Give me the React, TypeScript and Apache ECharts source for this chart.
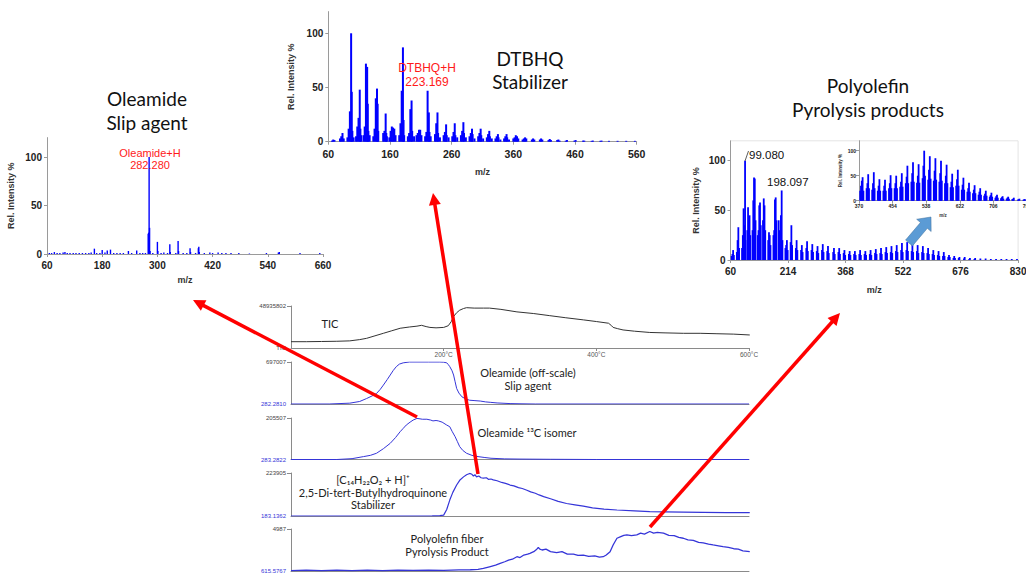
import React, { useEffect, useRef } from "react";
import * as echarts from "echarts";

// ---------------- DATA ----------------
// Mass spectrum 1: Oleamide (m/z, rel. intensity %)
const oleamideSpecMz = [65, 70, 76, 82, 88, 95, 99, 104, 110, 117, 123, 130, 137, 144, 151, 156, 163, 168, 175, 180, 186, 191, 198, 205, 212, 219, 226, 237, 244, 255, 262, 268, 274, 280, 281, 282, 283, 284, 290, 300, 301, 308, 314, 322, 327, 328, 340, 345, 346, 356, 364, 371, 372, 383, 389, 390, 391, 402, 414, 420, 432, 440, 449, 460, 477, 500, 537, 563, 565, 610, 653];
const oleamideSpecInt = [1, 1, 2, 1, 1, 1.5, 2, 1, 1, 1, 1, 1, 1, 1, 1, 1.5, 5.5, 1, 1, 4, 1.5, 3.5, 4.5, 1, 1, 1, 1, 3, 1, 3.5, 1, 1, 1, 21, 22, 100, 27, 3, 1, 12.5, 3, 1, 1.5, 1, 10, 2, 1, 13.5, 3, 1, 1, 6, 2, 1, 6, 7.5, 2, 1, 1.5, 1, 1.5, 1, 1, 1, 1, 0.5, 1, 1.5, 2, 1, 1];

// Mass spectrum 2: DTBHQ
const dtbhqSpecMz = [66, 68, 70, 79, 81, 83, 85, 91, 93, 95, 97, 98, 99, 101, 105, 107, 109, 111, 112, 113, 117, 119, 121, 123, 124, 125, 127, 133, 135, 137, 139, 140, 141, 149, 151, 153, 154, 155, 159, 161, 163, 165, 167, 169, 175, 177, 179, 181, 182, 183, 189, 191, 193, 195, 196, 199, 203, 205, 207, 209, 211, 217, 219, 221, 223, 224, 226, 233, 235, 237, 238, 241, 247, 249, 251, 252, 255, 261, 263, 265, 266, 269, 275, 277, 279, 280, 283, 289, 291, 293, 294, 297, 303, 305, 307, 308, 311, 317, 319, 321, 322, 325, 331, 333, 335, 336, 339, 345, 347, 349, 350, 353, 360, 362, 364, 366, 368, 375, 377, 379, 381, 390, 392, 394, 403, 405, 407, 417, 419, 421, 431, 433, 435, 445, 447, 459, 461, 473, 475, 487, 489, 501, 503, 515, 529, 543, 557];
const dtbhqSpecInt = [1, 2, 1.5, 3, 5, 8, 3, 4, 12, 28, 100, 46, 10, 4, 5, 14, 22, 48, 12, 6, 6, 14, 72, 69, 35, 10, 6, 5, 12, 40, 49, 35, 10, 8, 10, 26, 8, 5, 4, 10, 14, 13, 12, 6, 6, 17, 47, 87, 20, 6, 5, 8, 30, 38, 10, 5, 6, 8, 11, 11, 6, 5, 9, 47, 27, 9, 5, 7, 17, 27, 8, 4, 6, 9, 16, 6, 4, 5, 9, 17, 6, 4, 6, 10, 18, 8, 4, 5, 8, 12, 7, 3, 5, 8, 12, 6, 3, 4, 7, 10, 5, 3, 3, 5, 7, 4, 2, 3, 5, 7, 4, 2, 3, 4, 6, 5, 3, 2, 3, 4, 3, 2, 3, 2, 2, 3, 2, 1.5, 2.5, 1.5, 1.5, 2, 1, 1, 1.5, 1, 1.5, 1, 1, 0.8, 1, 0.8, 1, 0.8, 0.8, 0.8, 0.8];

// Mass spectrum 3: Polyolefin pyrolysis products
const polySpecMz = [63, 65, 67, 69, 77, 79, 81, 83, 91, 93, 95, 97, 99, 100, 105, 107, 109, 111, 113, 119, 121, 123, 125, 127, 133, 135, 137, 139, 141, 147, 149, 151, 153, 161, 163, 165, 167, 175, 177, 179, 181, 183, 189, 191, 195, 197, 199, 207, 209, 211, 213, 221, 223, 225, 235, 237, 239, 249, 251, 253, 263, 265, 267, 277, 279, 281, 291, 293, 295, 305, 307, 309, 319, 321, 323, 335, 337, 339, 349, 351, 353, 363, 365, 367, 377, 379, 381, 391, 393, 395, 405, 407, 409, 419, 421, 423, 433, 435, 437, 447, 449, 451, 461, 463, 465, 475, 477, 479, 489, 491, 493, 503, 505, 507, 517, 519, 521, 531, 533, 535, 545, 547, 549, 559, 561, 563, 573, 575, 577, 587, 589, 591, 601, 603, 605, 615, 617, 619, 629, 631, 633, 643, 645, 647, 657, 659, 661, 671, 673, 685, 687, 699, 701, 713, 715, 729, 743, 757, 771, 785, 799, 813, 827];
const polySpecInt = [4, 6, 10, 5, 8, 20, 33, 12, 12, 25, 52, 35, 100, 20, 30, 53, 40, 45, 25, 30, 60, 83, 82, 40, 25, 30, 55, 58, 35, 40, 62, 55, 30, 20, 28, 25, 15, 25, 30, 61, 63, 40, 40, 30, 45, 70, 20, 12, 15, 20, 10, 18, 35, 15, 12, 20, 10, 10, 15, 8, 12, 19, 9, 10, 16, 8, 9, 14, 7, 10, 16, 8, 9, 14, 7, 8, 12, 6, 8, 12, 6, 7, 10, 5, 6, 9, 5, 6, 9, 5, 6, 10, 5, 6, 9, 5, 6, 10, 5, 7, 11, 6, 7, 12, 6, 8, 13, 7, 8, 14, 7, 9, 15, 8, 10, 17, 8, 10, 18, 9, 9, 16, 8, 9, 15, 7, 8, 14, 7, 7, 12, 6, 6, 10, 5, 5, 9, 4, 4, 8, 4, 3, 5, 3, 2, 4, 2, 2, 3, 1.5, 3, 1, 2, 1, 2, 1.5, 1.5, 1, 1, 1, 1, 1, 1];

// Inset: zoom of polyolefin spectrum m/z 370-790
const insetMz = [373, 375, 377, 379, 381, 389, 391, 393, 395, 403, 405, 407, 409, 417, 419, 421, 423, 431, 433, 435, 437, 445, 447, 449, 451, 459, 461, 463, 465, 473, 475, 477, 479, 487, 489, 491, 493, 501, 503, 505, 507, 515, 517, 519, 521, 529, 531, 533, 535, 543, 545, 547, 549, 557, 559, 561, 563, 571, 573, 575, 577, 585, 587, 589, 591, 599, 601, 603, 605, 613, 615, 617, 619, 627, 629, 631, 633, 641, 643, 645, 647, 655, 657, 659, 661, 669, 671, 673, 675, 683, 685, 687, 689, 697, 699, 701, 703, 711, 713, 715, 717, 725, 727, 729, 731, 739, 741, 743, 745, 753, 755, 757, 767, 769, 771, 781, 783, 785];
const insetInt = [20, 30, 40, 47, 20, 25, 35, 53, 25, 22, 35, 57, 25, 20, 30, 43, 20, 20, 30, 42, 20, 25, 35, 51, 25, 25, 35, 50, 25, 28, 38, 55, 28, 35, 48, 70, 35, 38, 55, 77, 38, 36, 50, 73, 36, 45, 70, 100, 50, 42, 62, 89, 44, 40, 60, 85, 42, 38, 55, 80, 40, 35, 50, 72, 35, 27, 38, 54, 27, 30, 43, 62, 30, 22, 32, 46, 22, 18, 25, 36, 18, 15, 22, 31, 15, 12, 18, 25, 12, 10, 14, 20, 10, 8, 11, 16, 8, 6, 9, 12, 6, 5, 7, 9, 4, 4, 6, 8, 4, 3, 4, 6, 2, 3, 4, 2, 3, 3];

// Thermal profiles (temperature °C, % of panel full scale)
const ticTemp = [0, 20, 40, 60, 77, 90, 99, 110, 121, 132, 143, 155, 165, 171, 177, 182, 190, 200, 206, 210, 213, 217, 221, 226, 230, 240, 252, 260, 275, 296, 318, 339, 360, 383, 400, 416, 420, 422, 428, 435, 450, 470, 490, 514, 536, 558, 580, 601];
const ticVal = [15, 15, 15.5, 16, 17, 20, 23, 29, 35, 41, 47, 50, 52, 54, 51, 49, 48, 49, 53, 63, 75, 84, 90, 94, 96, 95, 95, 95, 92, 86, 82, 77, 72, 67, 63, 59, 53, 49, 46, 43, 40, 37, 36, 35, 35, 34, 33, 31];

const oleTemp = [0, 50, 77, 90, 99, 106, 112, 117, 121, 126, 130, 134, 138, 142, 147, 155, 180, 195, 200, 204, 206, 208, 211, 213, 215, 217, 220, 224, 229, 234, 241, 248, 255, 261, 270, 287, 300, 320, 600];
const oleVal = [0, 0, 2, 6, 13, 19, 25, 35, 45, 58, 69, 80, 89, 95, 98, 100, 100, 100, 99.5, 98, 94, 89, 79, 69, 53, 37, 26, 17, 12, 9, 8, 7, 5, 4, 2.5, 1, 0.5, 0, 0];

const isoTemp = [0, 60, 80, 95, 104, 112, 121, 130, 137, 143, 147, 151, 156, 160, 165, 169, 172, 178, 183, 186, 190, 193, 198, 204, 208, 211, 215, 218, 221, 225, 230, 237, 245, 253, 262, 280, 300, 340, 400, 600];
const isoVal = [0, 0, 2, 7, 10, 15, 26, 39, 53, 67, 75, 83, 90, 95, 99, 98, 97, 97, 95, 93, 94, 93, 90, 83, 79, 68, 55, 43, 31, 22, 15, 10, 7, 5, 3, 1.5, 1, 0.5, 0, 0];

const dtbTemp = [0, 150, 185, 195, 200, 204, 208, 212, 217, 221, 226, 230, 234, 237, 239, 241, 243, 246, 249, 252, 256, 259, 262, 265, 270, 276, 281, 287, 292, 298, 303, 309, 314, 320, 325, 331, 340, 350, 361, 372, 383, 395, 410, 427, 450, 470, 490, 514, 540, 570, 601];
const dtbVal = [0, 0, 0.5, 1, 2, 15, 37, 55, 72, 83, 91, 96, 99, 97, 93, 96, 91, 93, 89, 88, 89, 85, 86, 84, 82, 78, 76, 72, 70, 66, 64, 60, 56, 53, 49, 45, 40, 34, 29, 26, 23, 19, 16, 14, 12, 10, 9.5, 9, 8.5, 8, 8];

const polyTemp = [0, 20, 40, 60, 80, 100, 120, 140, 160, 180, 200, 220, 235, 245, 252, 260, 268, 274, 280, 285, 290, 296, 300, 305, 310, 313, 318, 322, 324, 326, 329, 334, 340, 348, 355, 362, 370, 376, 383, 390, 398, 404, 409, 413, 418, 422, 427, 432, 436, 440, 446, 453, 458, 463, 470, 475, 480, 488, 495, 502, 508, 514, 520, 527, 534, 540, 547, 553, 560, 566, 573, 580, 586, 592, 601];
const polyVal = [1, 2, 1, 2, 1, 2, 1, 2, 1.5, 2, 1.5, 2.5, 3, 4, 6, 10, 14, 18, 22, 26, 28, 34, 32, 38, 40, 42, 46, 52, 56, 52, 50, 52, 46, 44, 46, 40, 40, 37, 38, 35, 36, 33, 34, 38, 46, 62, 78, 82, 85, 86, 84, 86, 90, 88, 94, 90, 92, 90, 85, 84, 80, 78, 74, 73, 68, 67, 64, 62, 60, 58, 56, 53, 52, 48, 46];

// Axis tick values
const spec1Ticks = [60, 180, 300, 420, 540, 660];
const spec2Ticks = [60, 160, 260, 360, 460, 560];
const spec3Ticks = [60, 214, 368, 522, 676, 830];
const insetTicks = [370, 454, 538, 622, 706, 790];
const intensityTicks = [0, 50, 100];
const tempTicks = [200, 400, 600];

// Panel full-scale labels (top) and mass/trace labels (bottom)
const panelTopLabels = ["48935802", "697007", "205507", "223905", "4987"];
const panelBottomLabels = ["TIC", "282.2810", "283.2822", "183.1362", "615.5767"];

// ---------------- HELPERS ----------------
const zip = (a: number[], b: number[]) => a.map((v, i) => [v, b[i]]);

const BLUE = "#0000ff";
const TRACE_BLUE = "#3535d8";
const AXIS_GRAY = "#9a9a9a";
const SANS = "'Liberation Sans', Arial, sans-serif";
const TITLE_FONT = "Lato, 'Open Sans', sans-serif";

function specX(min: number, max: number, ticks: number[], fs: number, nameGap: number, nameFs: number, margin: number) {
  return {
    type: "value",
    min,
    max,
    axisLine: { show: true, lineStyle: { color: AXIS_GRAY, width: 1 } },
    axisTick: { show: true, customValues: ticks, length: 3, lineStyle: { color: AXIS_GRAY } },
    axisLabel: { customValues: ticks, fontSize: fs, fontWeight: "bold", color: "#222", fontFamily: SANS, margin },
    splitLine: { show: false },
    name: "m/z",
    nameLocation: "middle",
    nameGap,
    nameTextStyle: { fontSize: nameFs, fontWeight: "bold", color: "#333", fontFamily: SANS },
  };
}

function specY(fs: number, nameGap: number, nameFs: number, margin: number) {
  return {
    type: "value",
    min: 0,
    max: 120,
    axisLine: { show: true, lineStyle: { color: AXIS_GRAY, width: 1 } },
    axisTick: { show: true, customValues: intensityTicks, length: 3, lineStyle: { color: AXIS_GRAY } },
    axisLabel: { customValues: intensityTicks, fontSize: fs, fontWeight: "bold", color: "#222", fontFamily: SANS, margin },
    splitLine: { show: false },
    name: "Rel. Intensity %",
    nameLocation: "middle",
    nameRotate: 90,
    nameGap,
    nameTextStyle: { fontSize: nameFs, fontWeight: "bold", color: "#333", fontFamily: SANS },
  };
}

function arrow(x1: number, y1: number, x2: number, y2: number, color: string, lw: number, hl: number, hw: number) {
  const dx = x2 - x1, dy = y2 - y1;
  const L = Math.sqrt(dx * dx + dy * dy);
  const ux = dx / L, uy = dy / L;
  const px = -uy, py = ux;
  const bx = x2 - ux * hl, by = y2 - uy * hl;
  return [
    { type: "line", shape: { x1, y1, x2: bx + ux * 1, y2: by + uy * 1 }, style: { stroke: color, lineWidth: lw }, z: 100 },
    {
      type: "polygon",
      shape: { points: [[x2, y2], [bx + px * hw / 2, by + py * hw / 2], [bx - px * hw / 2, by - py * hw / 2]] },
      style: { fill: color },
      z: 100,
    },
  ];
}

function blockArrow(x1: number, y1: number, x2: number, y2: number, sw: number, hw: number, hl: number, color: string) {
  const dx = x2 - x1, dy = y2 - y1;
  const L = Math.sqrt(dx * dx + dy * dy);
  const ux = dx / L, uy = dy / L;
  const px = -uy, py = ux;
  const bx = x2 - ux * hl, by = y2 - uy * hl;
  const pts = [
    [x1 + px * sw / 2, y1 + py * sw / 2],
    [bx + px * sw / 2, by + py * sw / 2],
    [bx + px * hw / 2, by + py * hw / 2],
    [x2, y2],
    [bx - px * hw / 2, by - py * hw / 2],
    [bx - px * sw / 2, by - py * sw / 2],
    [x1 - px * sw / 2, y1 - py * sw / 2],
  ];
  return { type: "polygon", shape: { points: pts }, style: { fill: color, stroke: "#41719c", lineWidth: 0.5 }, z: 100 };
}

function txt(text: string, x: number, y: number, fontSize: number, color: string, family: string, align = "center", lineHeight?: number, weight = "normal") {
  return {
    type: "text",
    x,
    y,
    z: 50,
    style: {
      text,
      fill: color,
      fontSize,
      fontFamily: family,
      fontWeight: weight,
      align,
      verticalAlign: "middle",
      lineHeight: lineHeight || Math.round(fontSize * 1.2),
    },
  };
}

// ---------------- COMPONENT ----------------
export default function App() {
  const ref = useRef<HTMLDivElement>(null);

  useEffect(() => {
    document.body.style.margin = "0";
    const chart = echarts.init(ref.current!, null, { renderer: "svg" });

    const chromTops = [306, 362, 418, 473, 529];
    const chromHeights = [42, 42, 41.5, 43, 42];
    const chromData = [zip(ticTemp, ticVal), zip(oleTemp, oleVal), zip(isoTemp, isoVal), zip(dtbTemp, dtbVal), zip(polyTemp, polyVal)];
    const chromColors = ["#333333", TRACE_BLUE, TRACE_BLUE, TRACE_BLUE, TRACE_BLUE];
    const chromWidths = [1, 1, 1, 1.2, 1.3];

    const grids: any[] = [
      { left: 47, top: 137.6, width: 276, height: 116.4 },
      { left: 328.3, top: 11.6, width: 308.4, height: 130.1 },
      { left: 730.5, top: 140.8, width: 287.6, height: 119.2, show: true, borderColor: "#e4e4e4", borderWidth: 1, backgroundColor: "transparent" },
      { left: 859, top: 140.7, width: 168, height: 60 },
    ];
    chromTops.forEach((t, i) => grids.push({ left: 291, top: t, width: 458, height: chromHeights[i] }));
    grids.forEach((g) => (g.outerBoundsMode = "none"));

    const xAxes: any[] = [
      specX(60, 660, spec1Ticks, 10, 21, 9, 6),
      specX(60, 560, spec2Ticks, 10.5, 26, 9, 7),
      specX(60, 830, spec3Ticks, 10, 25, 9, 6),
      specX(370, 790, insetTicks, 5, 12, 4.5, 3),
    ];
    const yAxes: any[] = [specY(10, 32, 9, 5), specY(10, 33, 9, 5), specY(10, 30, 9, 5), specY(5, 16, 4.5, 3)];
    xAxes.forEach((a, i) => (a.gridIndex = i));
    yAxes.forEach((a, i) => (a.gridIndex = i));

    chromTops.forEach((_, i) => {
      xAxes.push({
        type: "value",
        gridIndex: 4 + i,
        min: 0,
        max: 600,
        axisLine: { show: true, lineStyle: { color: "#8a8a8a", width: 1 } },
        axisTick: i === 0 ? { show: true, customValues: tempTicks, length: 3, lineStyle: { color: "#8a8a8a" } } : { show: false },
        axisLabel: i === 0
          ? { show: true, customValues: tempTicks, formatter: (v: number) => `${v}°C`, fontSize: 6.5, color: "#555", fontFamily: SANS, margin: 3 }
          : { show: false },
        splitLine: { show: false },
      });
      yAxes.push({
        type: "value",
        gridIndex: 4 + i,
        min: 0,
        max: 100,
        axisLine: { show: true, lineStyle: { color: "#8a8a8a", width: 1 } },
        axisTick: { show: true, customValues: [100], length: 4, lineStyle: { color: "#8a8a8a" } },
        axisLabel: {
          show: true,
          customValues: [0, 100],
          margin: 5,
          formatter: (v: number) => (v >= 100 ? `{t|${panelTopLabels[i]}}` : `{b|${panelBottomLabels[i]}}`),
          rich: {
            t: { fontSize: 6, color: "#444", fontFamily: SANS },
            b: { fontSize: 6, color: i === 0 ? "#444" : TRACE_BLUE, fontFamily: SANS },
          },
        },
        splitLine: { show: false },
      });
    });

    const barSeries = (idx: number, data: number[][], w: number) => ({
      type: "bar",
      xAxisIndex: idx,
      yAxisIndex: idx,
      data,
      barWidth: w,
      itemStyle: { color: BLUE },
      silent: true,
      z: 3,
    });

    const series: any[] = [
      barSeries(0, zip(oleamideSpecMz, oleamideSpecInt), 1.4),
      barSeries(1, zip(dtbhqSpecMz, dtbhqSpecInt), 2),
      barSeries(2, zip(polySpecMz, polySpecInt), 1.8),
      barSeries(3, zip(insetMz, insetInt), 1.8),
    ];
    chromData.forEach((d, i) =>
      series.push({
        type: "line",
        xAxisIndex: 4 + i,
        yAxisIndex: 4 + i,
        data: d,
        showSymbol: false,
        symbol: "none",
        silent: true,
        lineStyle: { color: chromColors[i], width: chromWidths[i] },
      })
    );

    const graphics: any[] = [
      // spectrum titles
      txt("Oleamide\nSlip agent", 147, 110, 19, "#111", TITLE_FONT, "center", 24),
      txt("DTBHQ\nStabilizer", 530, 70, 19, "#111", TITLE_FONT, "center", 23),
      txt("Polyolefin\nPyrolysis products", 868, 97, 19, "#111", TITLE_FONT, "center", 24),
      // peak annotations
      txt("Oleamide+H\n282.280", 150, 159, 11, "#ff1a1a", SANS, "center", 12.5),
      txt("DTBHQ+H\n223.169", 427, 75, 12, "#ff1a1a", SANS, "center", 14),
      txt("99.080", 749, 155, 11.5, "#111", SANS, "left"),
      txt("198.097", 767, 182, 11.5, "#111", SANS, "left"),
      { type: "line", shape: { x1: 745, y1: 161, x2: 748.5, y2: 151 }, style: { stroke: "#333", lineWidth: 0.8 }, z: 50 },
      // chromatogram panel labels
      txt("TIC", 330, 323, 11, "#222", TITLE_FONT, "center"),
      txt("Oleamide (off-scale)\nSlip agent", 528, 379, 11, "#222", TITLE_FONT, "center", 12.5),
      txt("Oleamide ¹³C isomer", 527, 432, 11, "#222", TITLE_FONT, "center"),
      txt("[C₁₄H₂₂O₂ + H]⁺\n2,5-Di-tert-Butylhydroquinone\nStabilizer", 373, 492, 11, "#222", TITLE_FONT, "center", 12.5),
      txt("Polyolefin fiber\nPyrolysis Product", 447, 545, 11, "#222", TITLE_FONT, "center", 13.5),
      // arrows
      ...arrow(417, 417, 193, 300, "#ff0000", 3.5, 12, 12),
      ...arrow(478, 474, 433, 193, "#ff0000", 3.5, 12, 12),
      ...arrow(650, 527, 840, 313, "#ff0000", 3.5, 12, 12),
      blockArrow(909, 243, 931, 217, 9, 19, 11, "#5b9bd5"),
    ];

    chart.setOption({
      animation: false,
      backgroundColor: "#ffffff",
      grid: grids,
      xAxis: xAxes,
      yAxis: yAxes,
      series,
      graphic: { elements: graphics },
    });

    return () => chart.dispose();
  }, []);

  return <div ref={ref} style={{ position: "absolute", left: 0, top: 0, width: 1026, height: 575 }} />;
}
